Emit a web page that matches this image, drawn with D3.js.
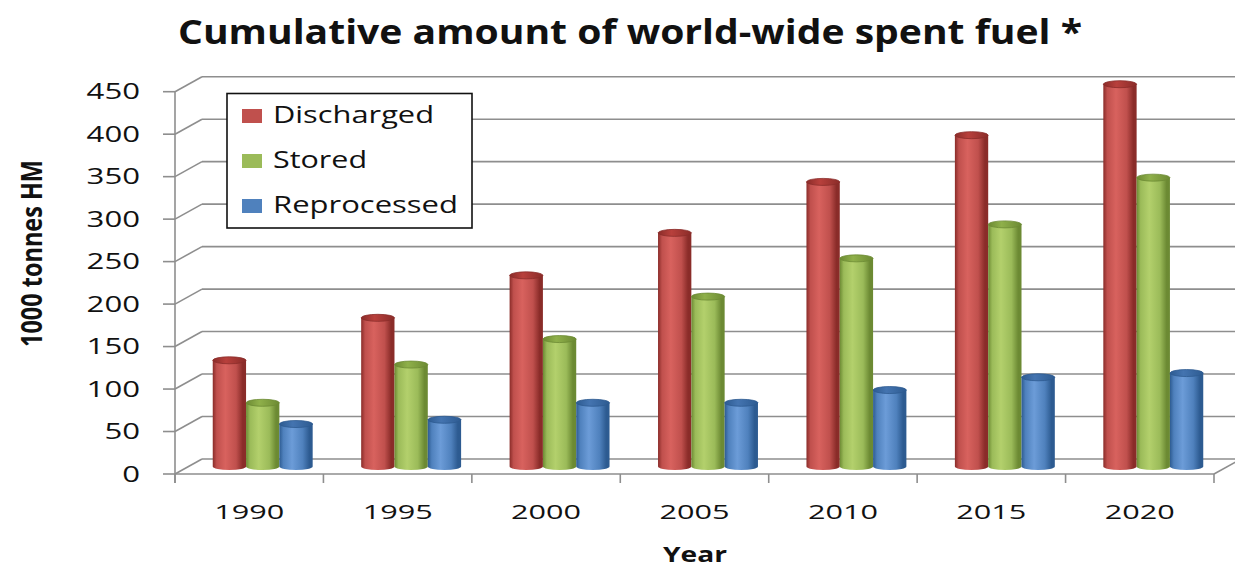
<!DOCTYPE html>
<html>
<head>
<meta charset="utf-8">
<script src="https://cdn.jsdelivr.net/npm/d3@7"></script>
<style>
  html, body { margin: 0; padding: 0; background: #ffffff; }
  svg { display: block; }
  text { font-family: "Open Sans", "DejaVu Sans", sans-serif; fill: #111; }
</style>
</head>
<body>
<svg id="chart" width="1235" height="567"></svg>
<script>
// Cumulative spent fuel, 1000 tonnes heavy metal
const years = ["1990", "1995", "2000", "2005", "2010", "2015", "2020"];
const seriesNames = ["Discharged", "Stored", "Reprocessed"];
const discharged = [125, 175, 225, 275, 335, 390, 450];
const stored = [75, 120, 150, 200, 245, 285, 340];
const reprocessed = [50, 55, 75, 75, 90, 105, 110];
const yTicks = [0, 50, 100, 150, 200, 250, 300, 350, 400, 450];

const seriesValues = [discharged, stored, reprocessed];
const palette = {
  Discharged: { base: "#C0504D", light: "#D8625E", dark: "#8A2C29", top: "#B8403C" },
  Stored: { base: "#9BBB59", light: "#B3D06C", dark: "#6C8A33", top: "#8FB04A" },
  Reprocessed: { base: "#4F81BD", light: "#6C9CD8", dark: "#2D5B91", top: "#4474B0" }
};

const svg = d3.select("#chart");
const defs = svg.append("defs");

// 3D frame: front plane and depth offset of the back wall
const front = { left: 175, right: 1214, bottom: 474, top: 91.7 };
const depth = { dx: 27, dy: -15 };

const x0 = d3.scaleBand().domain(years).range([front.left, front.right]).paddingInner(0).paddingOuter(0);
const x1 = d3.scaleBand().domain(seriesNames).range([0, x0.bandwidth()]).paddingInner(0).paddingOuter(0.728);
const y = d3.scaleLinear().domain([0, 450]).range([front.bottom, front.top]);

const gridColor = "#8e8e8e";
const grid = svg.append("g").attr("stroke", gridColor).attr("stroke-width", 1.6).attr("fill", "none");

// back wall gridlines and side wall diagonals
yTicks.forEach(t => {
  const yf = y(t);
  grid.append("line")
    .attr("x1", front.left + depth.dx).attr("y1", yf + depth.dy)
    .attr("x2", front.right + depth.dx).attr("y2", yf + depth.dy);
  grid.append("line")
    .attr("x1", front.left).attr("y1", yf)
    .attr("x2", front.left + depth.dx).attr("y2", yf + depth.dy);
});

// floor: front edge and right diagonal
grid.append("line").attr("x1", front.left).attr("y1", y(0)).attr("x2", front.right).attr("y2", y(0));
grid.append("line").attr("x1", front.right).attr("y1", y(0))
  .attr("x2", front.right + depth.dx).attr("y2", y(0) + depth.dy);

// value axis (front left edge)
grid.append("line").attr("x1", front.left).attr("y1", y(450)).attr("x2", front.left).attr("y2", y(0) + 9);
yTicks.forEach(t => {
  grid.append("line").attr("x1", front.left - 12).attr("y1", y(t)).attr("x2", front.left).attr("y2", y(t));
});
// category ticks
const boundaries = years.map(d => x0(d)).concat([x0(years[years.length - 1]) + x0.bandwidth()]);
boundaries.forEach(bx => {
  grid.append("line").attr("x1", bx).attr("y1", y(0)).attr("x2", bx).attr("y2", y(0) + 9);
});

// tick labels
const digitW = 17.8;
svg.append("g").selectAll("text").data(yTicks).join("text")
  .attr("x", 140).attr("y", d => y(d) + 7.5)
  .attr("text-anchor", "end")
  .attr("font-size", 21)
  .attr("textLength", d => String(d).length * digitW)
  .attr("lengthAdjust", "spacingAndGlyphs")
  .text(d => d);

svg.append("g").selectAll("text").data(years).join("text")
  .attr("x", d => x0(d) + x0.bandwidth() / 2)
  .attr("y", 519)
  .attr("text-anchor", "middle")
  .attr("font-size", 19.5)
  .attr("textLength", 70)
  .attr("lengthAdjust", "spacingAndGlyphs")
  .text(d => d);

// cylinder gradients
seriesNames.forEach((s, i) => {
  const c = palette[s];
  const g = defs.append("linearGradient").attr("id", "body" + i).attr("x1", "0").attr("x2", "1").attr("y1", "0").attr("y2", "0");
  [[0, c.dark], [0.12, c.base], [0.38, c.light], [0.7, c.base], [0.9, c.dark], [1, c.dark]].forEach(([o, col]) =>
    g.append("stop").attr("offset", o).attr("stop-color", col));
  const t = defs.append("linearGradient").attr("id", "top" + i).attr("x1", "0").attr("x2", "1").attr("y1", "0").attr("y2", "0");
  [[0, c.dark], [0.4, c.top], [1, c.dark]].forEach(([o, col]) =>
    t.append("stop").attr("offset", o).attr("stop-color", col));
});

// cylinders sit half-way into the depth of the floor
const mid = { dx: depth.dx / 2, dy: depth.dy / 2 };
const ry = 3.5;
const bars = svg.append("g");
years.forEach((yr, yi) => {
  seriesNames.forEach((s, si) => {
    const v = seriesValues[si][yi];
    const bx = x0(yr) + x1(s) + mid.dx;
    const w = x1.bandwidth();
    const rx = w / 2;
    const yTop = y(v) + mid.dy;
    const yBot = y(0) + mid.dy;
    const g = bars.append("g");
    g.append("path")
      .attr("d", `M${bx},${yTop} L${bx},${yBot} A${rx},${ry} 0 0 0 ${bx + w},${yBot} L${bx + w},${yTop} Z`)
      .attr("fill", `url(#body${si})`);
    g.append("ellipse")
      .attr("cx", bx + rx).attr("cy", yTop).attr("rx", rx).attr("ry", ry)
      .attr("fill", `url(#top${si})`)
      .attr("stroke", palette[s].dark).attr("stroke-width", 0.8);
  });
});

// legend
const legend = svg.append("g");
legend.append("rect")
  .attr("x", 227).attr("y", 93.5).attr("width", 245).attr("height", 134.5)
  .attr("fill", "#fff").attr("stroke", "#111").attr("stroke-width", 1.6);
const legendW = [161, 94, 185];
seriesNames.forEach((s, i) => {
  const by = 123 + i * 45;
  legend.append("rect")
    .attr("x", 242).attr("y", by - 14).attr("width", 20).attr("height", 14)
    .attr("fill", palette[s].base);
  legend.append("text")
    .attr("x", 273).attr("y", by)
    .attr("font-size", 23.5)
    .attr("textLength", legendW[i])
    .attr("lengthAdjust", "spacingAndGlyphs")
    .text(s);
});

// titles
svg.append("text")
  .attr("x", 178).attr("y", 44)
  .attr("font-size", 34).attr("font-weight", "bold")
  .attr("textLength", 904).attr("lengthAdjust", "spacingAndGlyphs")
  .text("Cumulative amount of world-wide spent fuel *");

svg.append("text")
  .attr("transform", "translate(42,253.5) rotate(-90)")
  .attr("text-anchor", "middle")
  .attr("font-size", 29).attr("font-weight", "bold")
  .attr("textLength", 187).attr("lengthAdjust", "spacingAndGlyphs")
  .text("1000 tonnes HM");

svg.append("text")
  .attr("x", 695).attr("y", 562)
  .attr("text-anchor", "middle")
  .attr("font-size", 21).attr("font-weight", "bold")
  .attr("textLength", 64).attr("lengthAdjust", "spacingAndGlyphs")
  .text("Year");
</script>
</body>
</html>
